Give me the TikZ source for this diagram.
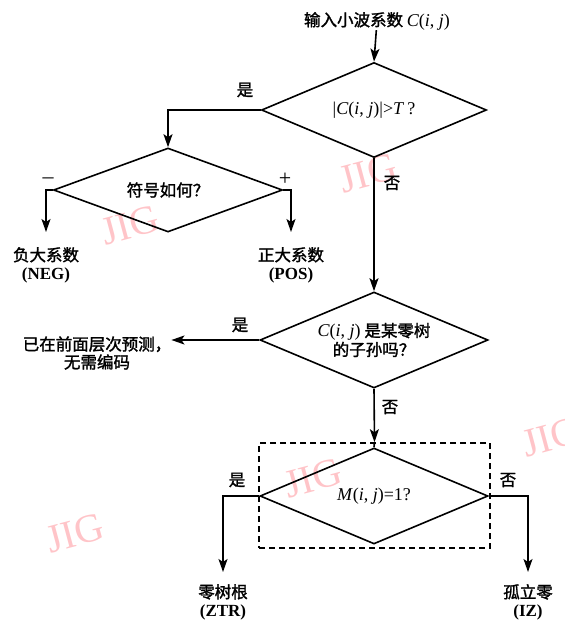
\documentclass[tikz,border=0pt]{standalone}
\usepackage{fontspec}
\setmainfont{Liberation Serif}
\newfontfamily\cjk{Noto Sans CJK SC}[FakeBold=1.6]
\usetikzlibrary{shapes.geometric,arrows.meta}
\definecolor{wmpink}{RGB}{255,196,200}
\newcommand\latn[1]{{\rmfamily #1}}
\begin{document}
\begin{tikzpicture}[x=1pt,y=-1pt,
  txt/.style={font=\fontsize{16.5}{18}\selectfont\cjk, inner sep=0pt, align=center},
  dec/.style={draw, diamond, aspect=2.4, line width=1.6pt, inner sep=0pt,
              font=\fontsize{16.5}{19}\selectfont\cjk, align=center},
  arr/.style={line width=1.6pt, -{Stealth[length=13pt,width=9pt,inset=3pt]}},
  ln/.style={line width=1.6pt},
  wm/.style={font=\fontsize{40}{40}\selectfont\rmfamily, text=wmpink, rotate=15, inner sep=0pt}]
\useasboundingbox (0,0) rectangle (565,624);
% watermarks
\node[wm] (w1) at (368,173) {JIG};
\node[wm] (w2) at (130,225) {JIG};
\node[wm] (w3) at (75,533) {JIG};
\node[wm] (w4) at (313,478) {JIG};
\node[wm] (w5) at (551,437) {JIG};
% main nodes
\node[txt] (in) at (377,21) {输入小波系数 \latn{\fontsize{18}{18}\selectfont\textit{C}(\textit{i}, \textit{j})}};
\node[dec, minimum width=225pt, minimum height=95pt] (d1) at (374,110)
  {\latn{\fontsize{18}{18}\selectfont|\textit{C}(\textit{i}, \textit{j})|>\textit{T}\,?}};
\node[dec, minimum width=229pt, minimum height=84pt] (d2) at (168,190) {符号如何？};
\node[dec, minimum width=228pt, minimum height=96pt] (d3) at (374,340)
  {\latn{\fontsize{18}{18}\selectfont\textit{C}(\textit{i}, \textit{j})} 是某零树\\的子孙吗？};
\node[draw, ln, dash pattern=on 6pt off 4pt, minimum width=231pt, minimum height=105pt,
  inner sep=0pt] (box) at (374.5,495.5) {};
\node[dec, minimum width=228pt, minimum height=96pt] (d4) at (374,496)
  {\latn{\fontsize{18}{18}\selectfont\textit{M}(\textit{i}, \textit{j})=1?}};
% leaves
\node[txt, anchor=north] (neg) at (46,247) {负大系数\\\latn{\fontsize{17}{18}\selectfont\bfseries (NEG)}};
\node[txt, anchor=north] (pos) at (291,247) {正大系数\\\latn{\fontsize{17}{18}\selectfont\bfseries (POS)}};
\node[txt] (pre) at (97,353) {已在前面层次预测，\\无需编码};
\node[txt, anchor=north] (ztr) at (223,584) {零树根\\\latn{\fontsize{17}{18}\selectfont\bfseries (ZTR)}};
\node[txt, anchor=north] (iz) at (528,584) {孤立零\\\latn{\fontsize{17}{18}\selectfont\bfseries (IZ)}};
% labels
\node[txt] (l1) at (245,90) {是};
\node[txt] (l2) at (392,183) {否};
\node[txt] (l3) at (48,181) {\latn{\fontsize{22}{22}\selectfont –}};
\node[txt] (l4) at (285,179) {\latn{\fontsize{22}{22}\selectfont +}};
\node[txt] (l5) at (240,325) {是};
\node[txt] (l6) at (390,407) {否};
\node[txt] (l7) at (237,480) {是};
\node[txt] (l8) at (508,480) {否};
% connectors
\draw[arr] (in) -- (d1.north);
\draw[arr] (d1.west) -| (d2.north);
\draw[arr] (d1.south) -- (d3.north);
\draw[arr, shorten >=15pt] (d2.west) -| (neg.north);
\draw[arr, shorten >=15pt] (d2.east) -| (pos.north);
\draw[arr] (d3.west) -- (d3.west -| pre.east);
\draw[arr] (d3.south) -- (box.north);
\draw[ln] (box.north) -- (d4.north);
\draw[arr, shorten >=12pt] (d4.west) -| (ztr.north);
\draw[arr, shorten >=12pt] (d4.east) -| (iz.north);
\end{tikzpicture}
\end{document}
